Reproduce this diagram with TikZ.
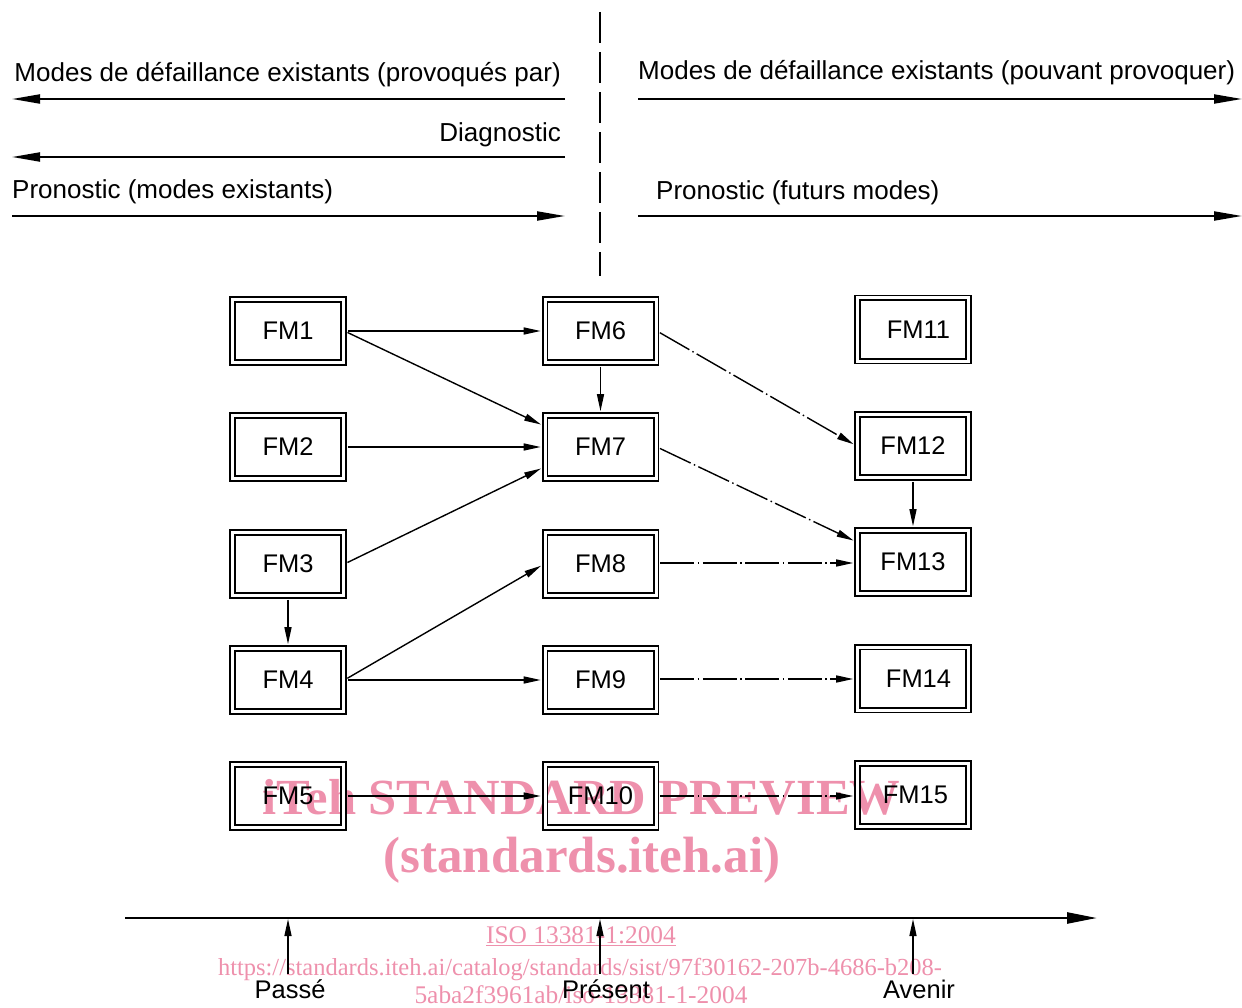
\documentclass[tikz,border=0pt]{standalone}
\usepackage{fontspec}
\setmainfont{Liberation Sans}
\newfontfamily\wmfont{Liberation Serif}
\usetikzlibrary{arrows.meta}
\definecolor{wmpink}{RGB}{238,144,172}
\begin{document}
\begin{tikzpicture}[x=1pt,y=-1pt,
  fm/.style={draw, double, double distance=3pt, line width=1.8pt,
    minimum width=111pt, minimum height=63pt, inner sep=0pt,
    font=\fontsize{25.5}{30}\selectfont},
  lbl/.style={inner sep=0pt, font=\fontsize{26}{30}\selectfont},
  tl/.style={inner sep=0pt, font=\fontsize{25.5}{30}\selectfont},
  conn/.style={line width=1.4pt, -{Triangle[length=17pt,width=7pt]}, shorten >=3.4pt, shorten <=3.4pt},
  dd/.style={conn, dash pattern=on 34pt off 3.5pt on 1.5pt off 3.5pt},
  toparr/.style={line width=2pt, -{Triangle[length=28pt,width=9pt]}},
  wm/.style={inner sep=0pt, text=wmpink}
]
\useasboundingbox (0,0) rectangle (1242,1008);

% watermark (behind the drawing)
\node[wm, anchor=base, font=\wmfont\bfseries\fontsize{50.6}{55}\selectfont] (w1) at (581.5,814) {iTeh STANDARD PREVIEW};
\node[wm, anchor=base, font=\wmfont\bfseries\fontsize{51}{55}\selectfont] (w2) at (582,872) {(standards.iteh.ai)};
\node[wm, anchor=base, font=\wmfont\fontsize{25.4}{28}\selectfont] (w3) at (581,943) {\underline{ISO 13381-1:2004}};
\node[wm, anchor=base, font=\wmfont\fontsize{24.5}{28}\selectfont] (w4) at (580,975) {https://standards.iteh.ai/catalog/standards/sist/97f30162-207b-4686-b208-};
\node[wm, anchor=base, font=\wmfont\fontsize{25.4}{28}\selectfont] (w5) at (581,1003) {5aba2f3961ab/iso-13381-1-2004};

% top texts and arrows
\node[lbl, anchor=base east] (t1) at (561,82) {Modes de défaillance existants (provoqués par)};
\node[lbl, anchor=base east] (t2) at (561,142) {Diagnostic};
\node[lbl, anchor=base west] (t3) at (12,199) {Pronostic (modes existants)};
\node[lbl, anchor=base west] (t4) at (638,80) {Modes de défaillance existants (pouvant provoquer)};
\node[lbl, anchor=base west] (t5) at (656,200) {Pronostic (futurs modes)};

\coordinate (a1s) at (565,99);  \coordinate (a1e) at (12,99);
\coordinate (a2s) at (565,157); \coordinate (a2e) at (12,157);
\coordinate (a3s) at (12,216);  \coordinate (a3e) at (565,216);
\coordinate (a4s) at (638,99);  \coordinate (a4e) at (1242,99);
\coordinate (a5s) at (638,216); \coordinate (a5e) at (1242,216);
\draw[toparr] (a1s) -- (a1e);
\draw[toparr] (a2s) -- (a2e);
\draw[toparr] (a3s) -- (a3e);
\draw[toparr] (a4s) -- (a4e);
\draw[toparr] (a5s) -- (a5e);

% vertical separator
\coordinate (v1) at (600,12); \coordinate (v2) at (600,276);
\draw[line width=2.5pt, dash pattern=on 31pt off 9pt] (v1) -- (v2);

% boxes
\node[fm] (FM1) at (288,331) {FM1};
\node[fm] (FM2) at (288,447) {FM2};
\node[fm] (FM3) at (288,564) {FM3};
\node[fm] (FM4) at (288,680) {FM4};
\node[fm] (FM5) at (288,796) {FM5};
\node[fm] (FM6) at (600.5,331) {FM6};
\node[fm] (FM7) at (600.5,447) {FM7};
\node[fm] (FM8) at (600.5,564) {FM8};
\node[fm] (FM9) at (600.5,680) {FM9};
\node[fm] (FM10) at (600.5,796) {FM10};
\node[fm] (FM11) at (913,329.5) {\hspace{11pt}FM11};
\node[fm] (FM12) at (913,446) {FM12};
\node[fm] (FM13) at (913,562) {FM13};
\node[fm] (FM14) at (913,678.5) {\hspace{11pt}FM14};
\node[fm] (FM15) at (913,795) {\hspace{5pt}FM15};

% solid connectors
\draw[conn] (FM1.east) -- (FM6.west);
\draw[conn] (FM1.east) -- ([yshift=21pt]FM7.west);
\draw[conn] (FM2.east) -- (FM7.west);
\draw[conn] (FM3.east) -- ([yshift=-20pt]FM7.west);
\draw[conn] (FM6.south) -- (FM7.north);
\draw[conn] (FM3.south) -- (FM4.north);
\draw[conn] (FM4.east) -- (FM8.west);
\draw[conn] (FM4.east) -- (FM9.west);
\draw[conn] (FM5.east) -- (FM10.west);
\draw[conn] (FM12.south) -- (FM13.north);

% dash-dot connectors
\draw[dd] (FM6.east) -- (FM12.west);
\draw[dd] (FM7.east) -- ([yshift=20pt]FM13.west);
\draw[dd] ([yshift=1pt]FM8.east) -- ([yshift=1pt]FM8.east -| FM13.west);
\draw[dd] ([yshift=1pt]FM9.east) -- ([yshift=1pt]FM9.east -| FM14.west);
\draw[dd] (FM10.east) -- (FM10.east -| FM15.west);

% timeline
\coordinate (tls) at (125,918); \coordinate (tle) at (1097,918);
\draw[line width=2.5pt, -{Triangle[length=30pt,width=11pt]}] (tls) -- (tle);
\coordinate (p1) at (288,974); \coordinate (p1e) at (288,919);
\coordinate (p2) at (600,974); \coordinate (p2e) at (600,919);
\coordinate (p3) at (913,974); \coordinate (p3e) at (913,919);
\draw[line width=1.4pt, -{Triangle[length=17pt,width=7pt]}] (p1) -- (p1e);
\draw[line width=1.4pt, -{Triangle[length=17pt,width=7pt]}] (p2) -- (p2e);
\draw[line width=1.4pt, -{Triangle[length=17pt,width=7pt]}] (p3) -- (p3e);
\node[tl, anchor=base] (passe) at (290,998) {Passé};
\node[tl, anchor=base] (present) at (606,998) {Présent};
\node[tl, anchor=base] (avenir) at (919,998) {Avenir};
\end{tikzpicture}
\end{document}
